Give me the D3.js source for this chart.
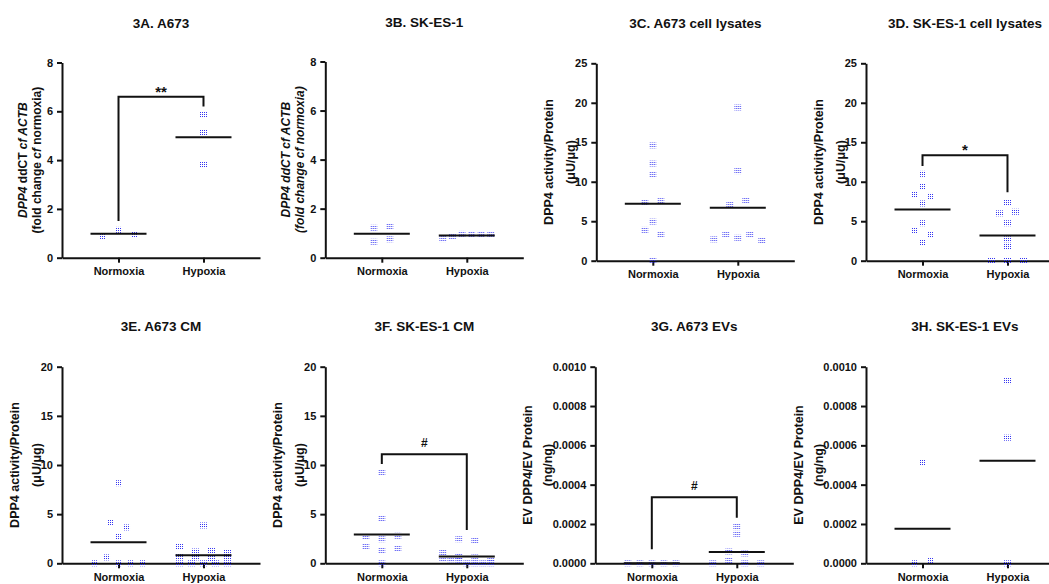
<!DOCTYPE html>
<html lang="en">
<head>
    <meta charset="UTF-8">
    <title>DPP4 normoxia vs hypoxia</title>
    <script src="https://cdn.jsdelivr.net/npm/d3@7/dist/d3.min.js"></script>
    <style>
        body { margin: 0; background: #fff; }
        text { font-family: "Liberation Sans", Arial, sans-serif; font-weight: bold; fill: #111; }
    </style>
</head>
<body>
<script>
    // groups on every x axis
    const groups = ['Normoxia', 'Hypoxia'];

    // 3A / 3B: qPCR fold change
    const qpcrA673Normoxia = [0.88, 1.14, 0.93];
    const qpcrA673Hypoxia = [5.85, 5.15, 3.8];
    const qpcrSkNormoxia = [1.22, 1.27, 0.65, 0.75];
    const qpcrSkHypoxia = [0.76, 0.86, 0.97, 0.94, 0.96, 0.95];

    // 3C / 3D: cell lysates
    const lysateA673Normoxia = [14.6, 12.3, 10.85, 7.4, 7.55, 4.95, 3.9, 3.3, 0];
    const lysateA673Hypoxia = [19.4, 11.35, 7.05, 7.65, 2.7, 3.35, 2.9, 3.35, 2.55];
    const lysateSkNormoxia = [11.0, 9.4, 8.4, 8.2, 7.25, 4.75, 3.8, 3.35, 2.3];
    const lysateSkHypoxia = [7.4, 6.0, 6.2, 4.75, 2.7, 1.8, 0, 0, 0];

    // 3E / 3F: conditioned media
    const cmA673Normoxia = [8.15, 4.1, 3.65, 2.7, 0, 0.6, 0, 0, 0];
    const cmA673Hypoxia = [3.85, 1.7, 1.2, 1.25, 1.15, 0.7, 0.6, 0.5, 0.6, 0, 0, 0, 0, 0];
    const cmSkNormoxia = [9.25, 4.6, 2.7, 2.45, 2.8, 1.7, 1.25, 1.55, 0];
    const cmSkHypoxia = [2.45, 2.3, 1.15, 0.7, 0.6, 0.5, 0.45, 0.4, 0.35, 0, 0, 0, 0];

    // 3G / 3H: EVs
    const evA673Normoxia = [0, 0, 0, 0, 0];
    const evA673Hypoxia = [0.000185, 0.00015, 0.00006, 0.00005, 0, 0.000015, 0, 0];
    const evSkNormoxia = [0.000515, 0, 0.0000136];
    const evSkHypoxia = [0.000927, 0.000639, 0];

    // y tick values
    const qpcrTicks = [0, 2, 4, 6, 8];
    const lysateTicks = [0, 5, 10, 15, 20, 25];
    const cmTicks = [0, 5, 10, 15, 20];
    const evTicks = [0, 0.0002, 0.0004, 0.0006, 0.0008, 0.001];

    // significance brackets: label, bar level, left leg end, right leg end
    const bracketA = ['**', 6.6, 1.5, 6.2];
    const bracketD = ['*', 13.35, 12.0, 8.66];
    const bracketF = ['#', 11.1, 10.1, 3.4];
    const bracketG = ['#', 0.000336, 0.0000712, 0.000232];

    // y axis titles (text pieces, italic flag)
    const labelA = [
        [['DPP4', true], [' ddCT ', false], ['cf', true], [' ACTB', true]],
        [['(fold change ', false], ['cf', true], [' normoxia)', false]]
    ];
    const labelB = [
        [['DPP4 ddCT cf ACTB', true]],
        [['(fold change cf normoxia)', true]]
    ];
    const labelActivity = [[['DPP4 activity/Protein', false]], [['(μU/μg)', false]]];
    const labelEv = [[['EV DPP4/EV Protein', false]], [['(ng/ng)', false]]];

    const width = 1049;
    const height = 584;
    const plotW = 198;

    const panels = [
        {title: '3A. A673', left: 62, top: 62.5, bottom: 257.7, titleY: 28, ticks: qpcrTicks, fmt: d3.format('d'),
            values: [qpcrA673Normoxia, qpcrA673Hypoxia], label: labelA, labelX: [-35, -21], labelSize: 12, bracket: bracketA},
        {title: '3B. SK-ES-1', left: 325.3, top: 61.5, bottom: 257.7, titleY: 27, ticks: qpcrTicks, fmt: d3.format('d'),
            values: [qpcrSkNormoxia, qpcrSkHypoxia], label: labelB, labelX: [-35, -21], labelSize: 12},
        {title: '3C. A673 cell lysates', left: 596.3, top: 63.3, bottom: 260.7, titleY: 28.3, ticks: lysateTicks, fmt: d3.format('d'),
            values: [lysateA673Normoxia, lysateA673Hypoxia], label: labelActivity, labelX: [-43, -21], labelSize: 12.5},
        {title: '3D. SK-ES-1 cell lysates', left: 866, top: 63.3, bottom: 260.7, titleY: 28.3, ticks: lysateTicks, fmt: d3.format('d'),
            values: [lysateSkNormoxia, lysateSkHypoxia], label: labelActivity, labelX: [-43, -21], labelSize: 12.5, bracket: bracketD},
        {title: '3E. A673 CM', left: 62, top: 366.7, bottom: 563.3, titleY: 330.7, ticks: cmTicks, fmt: d3.format('d'),
            values: [cmA673Normoxia, cmA673Hypoxia], label: labelActivity, labelX: [-43, -21], labelSize: 12.5},
        {title: '3F. SK-ES-1 CM', left: 325.3, top: 366.7, bottom: 563.3, titleY: 330.7, ticks: cmTicks, fmt: d3.format('d'),
            values: [cmSkNormoxia, cmSkHypoxia], label: labelActivity, labelX: [-43, -21], labelSize: 12.5, bracket: bracketF},
        {title: '3G. A673 EVs', left: 595.3, top: 366.7, bottom: 563.3, titleY: 330.7, ticks: evTicks, fmt: d3.format('.4f'),
            values: [evA673Normoxia, evA673Hypoxia], label: labelEv, labelX: [-63, -43], labelSize: 12.5, bracket: bracketG},
        {title: '3H. SK-ES-1 EVs', left: 866, top: 366.7, bottom: 563.3, titleY: 330.7, ticks: evTicks, fmt: d3.format('.4f'),
            values: [evSkNormoxia, evSkHypoxia], label: labelEv, labelX: [-63, -43], labelSize: 12.5}
    ];

    let svg = d3.select('body')
        .append('svg')
        .attr('width', width)
        .attr('height', height);

    svg.append('rect').attr('width', width).attr('height', height).attr('fill', '#fff');

    // dotted fill used by the markers
    svg.append('defs')
        .append('pattern')
        .attr('id', 'dots')
        .attr('patternUnits', 'userSpaceOnUse')
        .attr('width', 2)
        .attr('height', 2)
        .append('rect')
        .attr('width', 1)
        .attr('height', 1)
        .attr('fill', '#3434f2');

    // spread points that sit on the same row, like a scatter dot plot
    function rowOffsets(values, y, rowH, step, maxHalf) {
        const order = values.map((v, i) => i).sort((a, b) => values[b] - values[a]);
        const rows = [];
        let cur = null;
        order.forEach(i => {
            if (!cur || y(values[i]) - y(values[cur[0]]) > rowH) {
                cur = [i];
                rows.push(cur);
            } else {
                cur.push(i);
            }
        });
        const off = values.map(() => 0);
        rows.forEach(r => {
            r.sort((a, b) => a - b);
            const n = r.length;
            const s = n > 1 ? Math.min(step, 2 * maxHalf / (n - 1)) : 0;
            r.forEach((i, k) => off[i] = (k - (n - 1) / 2) * s);
        });
        return off;
    }

    panels.forEach(p => {
        let g = svg.append('g').attr('transform', `translate(${p.left}, 0)`);

        let x = d3.scalePoint().domain(groups).range([0, plotW]).padding(0.665);
        let y = d3.scaleLinear().domain([0, d3.max(p.ticks)]).range([p.bottom, p.top]);

        // title
        g.append('text')
            .attr('x', plotW / 2)
            .attr('y', p.titleY)
            .attr('text-anchor', 'middle')
            .style('font-size', '13.5px')
            .text(p.title);

        // axes
        let yAxis = g.append('g')
            .call(d3.axisLeft(y).tickValues(p.ticks).tickFormat(p.fmt).tickSize(5).tickSizeOuter(0).tickPadding(4));
        let xAxis = g.append('g')
            .attr('transform', `translate(0, ${p.bottom})`)
            .call(d3.axisBottom(x).tickSize(5).tickSizeOuter(0).tickPadding(5));
        [xAxis, yAxis].forEach(a => {
            a.selectAll('path, line').attr('stroke', '#111').attr('stroke-width', 2);
            a.selectAll('text')
                .style('font-family', '"Liberation Sans", Arial, sans-serif')
                .style('font-weight', 'bold')
                .style('font-size', '11px')
                .attr('fill', '#111');
        });

        // y axis title, two lines
        p.label.forEach((line, li) => {
            let t = g.append('text')
                .attr('transform', `translate(${p.labelX[li]}, ${(p.top + p.bottom) / 2}) rotate(-90)`)
                .attr('text-anchor', 'middle')
                .style('font-size', p.labelSize + 'px');
            line.forEach(part => {
                t.append('tspan')
                    .style('font-style', part[1] ? 'italic' : 'normal')
                    .text(part[0]);
            });
        });

        // points
        p.values.forEach((vals, gi) => {
            const off = rowOffsets(vals, y, 6.5, 16, 24);
            g.selectAll(null)
                .data(vals)
                .enter()
                .append('rect')
                .attr('x', (d, i) => x(groups[gi]) + off[i] - 3.5)
                .attr('y', d => y(d) - 3)
                .attr('width', 7)
                .attr('height', 6)
                .attr('fill', 'url(#dots)');
        });

        // mean lines
        g.selectAll(null)
            .data(p.values)
            .enter()
            .append('line')
            .attr('x1', (d, i) => x(groups[i]) - 28)
            .attr('x2', (d, i) => x(groups[i]) + 28)
            .attr('y1', d => y(d3.mean(d)))
            .attr('y2', d => y(d3.mean(d)))
            .attr('stroke', '#111')
            .attr('stroke-width', 2);

        // significance bracket
        if (p.bracket) {
            const [label, bar, leftEnd, rightEnd] = p.bracket;
            const xl = x(groups[0]);
            const xr = x(groups[1]);
            g.append('path')
                .attr('d', `M${xl},${y(leftEnd)}V${y(bar)}H${xr}V${y(rightEnd)}`)
                .attr('fill', 'none')
                .attr('stroke', '#111')
                .attr('stroke-width', 2);
            const star = label.indexOf('*') >= 0;
            g.append('text')
                .attr('x', (xl + xr) / 2)
                .attr('y', y(bar) - (star ? 0 : 7))
                .attr('text-anchor', 'middle')
                .style('font-size', star ? '15px' : '12px')
                .text(label);
        }
    });
</script>
</body>
</html>
